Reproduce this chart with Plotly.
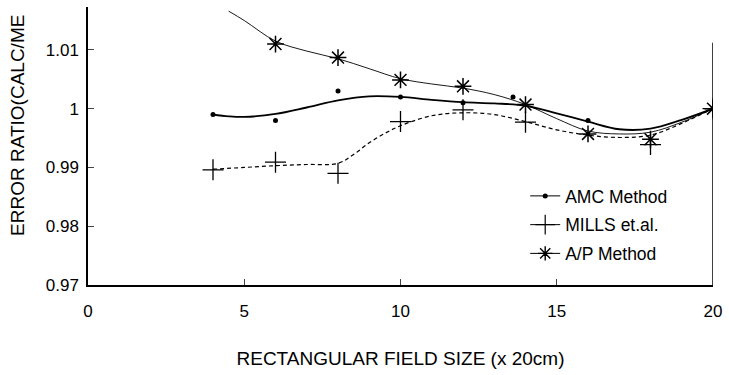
import plotly.graph_objects as go

# measured points
amc_x = [4, 6, 8, 10, 12, 13.6, 16, 20]
amc_y = [0.9990, 0.9980, 1.0030, 1.0020, 1.0010, 1.0020, 0.9980, 1.0000]
mills_x = [4, 6, 8, 10, 12, 14, 18, 20]
mills_y = [0.9896, 0.9909, 0.9890, 0.9978, 0.9998, 0.9977, 0.9939, 1.0000]
ap_x = [6, 8, 10, 12, 14, 16, 18, 20]
ap_y = [1.0110, 1.0087, 1.0049, 1.0038, 1.0007, 0.9957, 0.9948, 1.0000]

# fitted curves
amc_fit_x = [4, 4.5, 5, 6, 7, 8, 9, 10, 11, 12, 13, 14, 15, 16, 17, 18, 19, 20]
amc_fit_y = [0.9990, 0.9987, 0.9986, 0.9991, 1.0002, 1.0014, 1.0021, 1.0020, 1.0015,
             1.0011, 1.0009, 1.0005, 0.9992, 0.9978, 0.9965, 0.9966, 0.9981, 1.0000]
mills_fit_x = [4, 5, 6, 7, 8, 8.5, 9, 9.5, 10, 11, 12, 13, 14, 15, 16, 17, 18, 19, 20]
mills_fit_y = [0.9897, 0.9900, 0.9903, 0.9905, 0.9907, 0.9922, 0.9942, 0.9958, 0.9971,
               0.9988, 0.9993, 0.9990, 0.9978, 0.9964, 0.9955, 0.9951, 0.9955, 0.9975, 1.0000]
ap_fit_x = [4.5, 5, 6, 7, 8, 9, 10, 11, 12, 13, 14, 15, 16, 17, 18, 19, 20]
ap_fit_y = [1.0166, 1.0150, 1.0115, 1.0098, 1.0085, 1.0068, 1.0051, 1.0042, 1.0035,
            1.0024, 1.0007, 0.9983, 0.9962, 0.9957, 0.9960, 0.9977, 1.0000]

x_ticks = [0, 5, 10, 15, 20]
y_ticks = [0.97, 0.98, 0.99, 1.0, 1.01]
y_tick_text = ["0.97", "0.98", "0.99", "1", "1.01"]

series_names = ["AMC Method", "MILLS et.al.", "A/P Method"]

FONT = "Liberation Sans, Arial, sans-serif"

fig = go.Figure()

# curves
fig.add_trace(go.Scatter(x=amc_fit_x, y=amc_fit_y, mode="lines", line=dict(color="black", width=1.8, shape="spline"),
                         showlegend=False, hoverinfo="skip"))
fig.add_trace(go.Scatter(x=mills_fit_x, y=mills_fit_y, mode="lines",
                         line=dict(color="black", width=1.2, dash="4px,3px", shape="spline"),
                         showlegend=False, hoverinfo="skip"))
fig.add_trace(go.Scatter(x=ap_fit_x, y=ap_fit_y, mode="lines", line=dict(color="black", width=0.9, shape="spline"),
                         showlegend=False, hoverinfo="skip"))

# markers
fig.add_trace(go.Scatter(x=amc_x, y=amc_y, mode="markers",
                         marker=dict(symbol="circle", size=5, color="black"), showlegend=False))
fig.add_trace(go.Scatter(x=mills_x, y=mills_y, mode="markers",
                         marker=dict(symbol="cross-thin-open", size=15, color="black", line=dict(width=1.3, color="black")),
                         showlegend=False))
fig.add_trace(go.Scatter(x=ap_x, y=ap_y, mode="markers",
                         marker=dict(symbol="asterisk-open", size=14, color="black", line=dict(width=1.5, color="black")),
                         showlegend=False))

# legend entries
leg_markers = [
    dict(symbol="circle", size=5, color="black"),
    dict(symbol="cross-thin-open", size=14, color="black", line=dict(width=1.2, color="black")),
    dict(symbol="asterisk-open", size=12, color="black", line=dict(width=1.4, color="black")),
]
for i, (name, mk) in enumerate(zip(series_names, leg_markers)):
    fig.add_trace(go.Scatter(x=[None], y=[None], mode="lines+markers", name=name,
                             line=dict(color="black", width=1), marker=mk, legendgroup=f"g{i}"))

# right-side vertical line
fig.add_shape(type="line", xref="x", yref="y", x0=20, x1=20, y0=0.97, y1=1.0112,
              line=dict(color="black", width=1.5))

# y title (as visible in the reference)
fig.add_annotation(text="ERROR RATIO(CALC/ME", xref="paper", yref="paper",
                   x=(17 - 88) / 629, y=1 - (238 - 7) / 278, xanchor="center", yanchor="bottom",
                   textangle=-90, showarrow=False, font=dict(family=FONT, size=19, color="black"))

fig.update_layout(
    width=729, height=375,
    margin=dict(l=88, r=12, t=7, b=90),
    paper_bgcolor="white", plot_bgcolor="white",
    font=dict(family=FONT, size=17, color="black"),
    legend=dict(x=(528 - 88) / 629, y=1 - (178 - 7) / 278, xanchor="left", yanchor="top",
                bgcolor="rgba(0,0,0,0)", font=dict(size=17.5, family=FONT),
                traceorder="grouped", tracegroupgap=3, itemwidth=30),
    xaxis=dict(range=[0, 20], tickvals=x_ticks, ticks="inside", ticklen=6, tickwidth=1.2,
               showgrid=False, zeroline=False, showline=True, linecolor="black", linewidth=1.5,
               ticklabelstandoff=10,
               title=dict(text="RECTANGULAR FIELD SIZE (x 20cm)", font=dict(family=FONT, size=19), standoff=32)),
    yaxis=dict(range=[0.97, 1.0173], tickvals=y_ticks, ticktext=y_tick_text, ticks="inside", ticklen=6, tickwidth=1.2,
               showgrid=False, zeroline=False, showline=True, linecolor="black", linewidth=1.5,
               ticklabelstandoff=4),
)

fig.write_html("out.html")
